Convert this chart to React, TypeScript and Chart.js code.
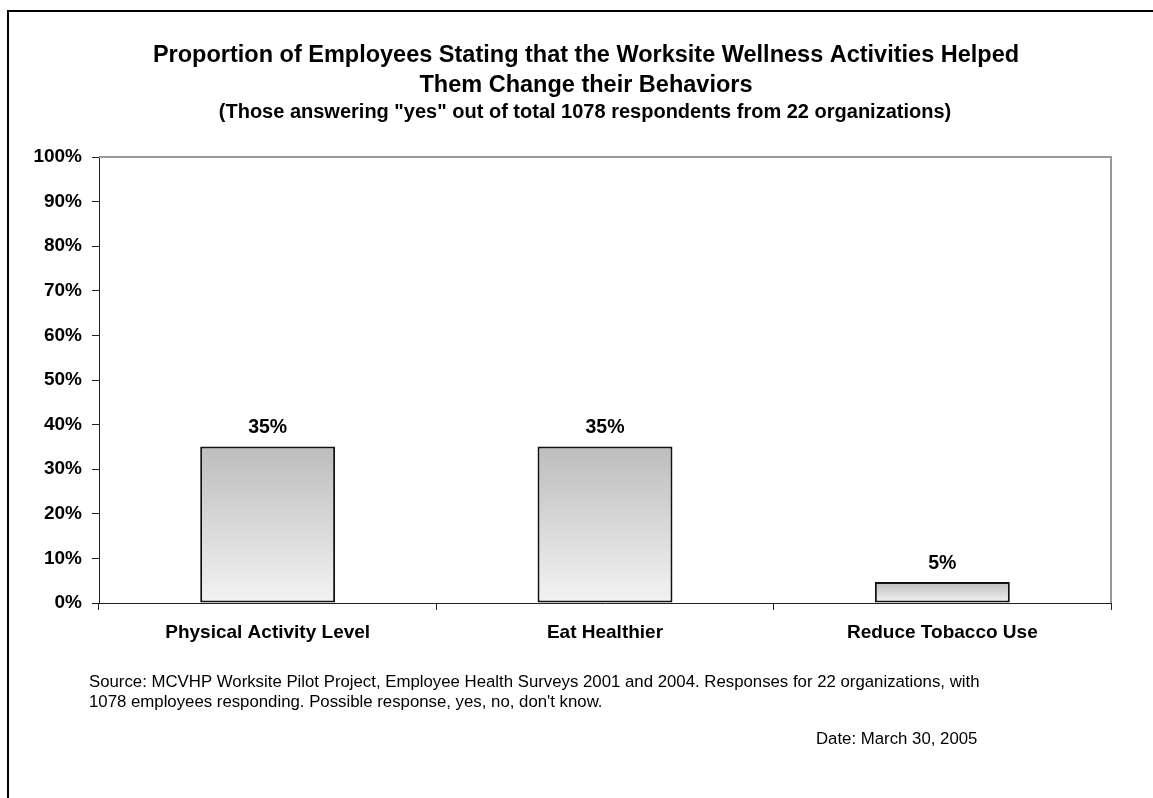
import React, { useEffect, useRef } from "react";
import { Chart, registerables } from "chart.js";

Chart.register(...registerables);

const categories = ["Physical Activity Level", "Eat Healthier", "Reduce Tobacco Use"];
const yesPercent = [35.1, 35.1, 4.7];
const yMin = 0;
const yMax = 100;
const yStep = 10;
const titleLines = [
  "Proportion of Employees Stating that the Worksite Wellness Activities Helped",
  "Them Change their Behaviors",
];
const subtitleText = '(Those answering "yes" out of total 1078 respondents from 22 organizations)';
const sourceLines = [
  "Source: MCVHP Worksite Pilot Project, Employee Health Surveys 2001 and 2004. Responses for 22 organizations, with",
  "1078 employees responding. Possible response, yes, no, don't know.",
];
const dateText = "Date: March 30, 2005";

const FONT = '"Liberation Sans", Arial, Helvetica, sans-serif';

const textPlugin = {
  id: "textPlugin",
  afterDraw(chart: any) {
    const ctx = chart.ctx as CanvasRenderingContext2D;
    ctx.save();
    ctx.fillStyle = "#000";
    ctx.textBaseline = "alphabetic";
    ctx.textAlign = "center";
    ctx.font = `bold 23.5px ${FONT}`;
    ctx.fillText(titleLines[0], 586, 61.7);
    ctx.fillText(titleLines[1], 586, 92.3);
    ctx.font = `bold 20px ${FONT}`;
    ctx.fillText(subtitleText, 585, 117.7);
    ctx.textAlign = "left";
    ctx.font = `16.8px ${FONT}`;
    ctx.fillText(sourceLines[0], 89, 686.7);
    ctx.fillText(sourceLines[1], 89, 706.7);
    ctx.fillText(dateText, 816, 744);
    ctx.restore();
  },
};

const framePlugin = {
  id: "framePlugin",
  beforeDatasetsDraw(chart: any) {
    const { ctx, chartArea } = chart;
    ctx.save();
    ctx.strokeStyle = "#999999";
    ctx.lineWidth = 2;
    ctx.beginPath();
    ctx.moveTo(chartArea.left, chartArea.top);
    ctx.lineTo(chartArea.right, chartArea.top);
    ctx.lineTo(chartArea.right, chartArea.bottom);
    ctx.stroke();
    ctx.restore();
  },
};

const valueLabelPlugin = {
  id: "valueLabelPlugin",
  afterDatasetsDraw(chart: any) {
    const ctx = chart.ctx as CanvasRenderingContext2D;
    const meta = chart.getDatasetMeta(0);
    ctx.save();
    ctx.fillStyle = "#000";
    ctx.font = `bold 19.5px ${FONT}`;
    ctx.textAlign = "center";
    ctx.textBaseline = "alphabetic";
    meta.data.forEach((bar: any, i: number) => {
      const v = chart.data.datasets[0].data[i] as number;
      ctx.fillText(`${Math.round(v)}%`, bar.x, bar.y - 13);
    });
    ctx.restore();
  },
};

export default function App() {
  const canvasRef = useRef<HTMLCanvasElement | null>(null);

  useEffect(() => {
    if (!canvasRef.current) return;
    const chart = new Chart(canvasRef.current, {
      type: "bar",
      data: {
        labels: categories,
        datasets: [
          {
            data: yesPercent,
            backgroundColor: (c: any) => {
              const ch = c.chart;
              const ys = ch.scales && ch.scales.y;
              if (!ys || c.type !== "data") return "#d8d8d8";
              const top = ys.getPixelForValue(c.raw as number);
              const bottom = ys.getPixelForValue(0);
              if (!isFinite(top) || !isFinite(bottom) || top === bottom) return "#d8d8d8";
              const g = ch.ctx.createLinearGradient(0, top, 0, bottom);
              g.addColorStop(0, "#bdbdbd");
              g.addColorStop(1, "#f3f3f3");
              return g;
            },
            borderColor: "#111",
            borderWidth: 2,
            borderSkipped: false,
            categoryPercentage: 1,
            barPercentage: 0.4,
          },
        ],
      },
      options: {
        responsive: false,
        animation: false,
        layout: { padding: { top: 157, right: 42, left: 0, bottom: 145 } },
        plugins: {
          legend: { display: false },
          tooltip: { enabled: false },
          title: { display: false },
        },
        scales: {
          x: {
            afterFit: (s: any) => {
              s.height = 50;
            },
            grid: {
              display: true,
              drawOnChartArea: false,
              drawTicks: true,
              tickLength: 7,
              color: "#222",
              offset: true,
            },
            border: { display: true, color: "#222", width: 1 },
            ticks: {
              color: "#000",
              padding: 11,
              font: { family: FONT, size: 19, weight: "bold" },
              maxRotation: 0,
              autoSkip: false,
            },
          },
          y: {
            min: yMin,
            max: yMax,
            afterFit: (s: any) => {
              s.width = 99;
            },
            grid: {
              display: true,
              drawOnChartArea: false,
              drawTicks: true,
              tickLength: 7,
              color: "#222",
            },
            border: { display: true, color: "#222", width: 1 },
            ticks: {
              stepSize: yStep,
              color: "#000",
              padding: 10,
              font: { family: FONT, size: 19, weight: "bold" },
              callback: (v: any) => `${v}%`,
            },
          },
        },
      },
      plugins: [framePlugin, valueLabelPlugin, textPlugin],
    });
    return () => chart.destroy();
  }, []);

  return (
    <>
      <div
        style={{
          position: "fixed",
          left: 7,
          top: 10,
          width: 1146,
          height: 788,
          borderLeft: "2px solid #000",
          borderTop: "2px solid #000",
          boxSizing: "border-box",
          background: "#fff",
        }}
      />
      <canvas
        ref={canvasRef}
        width={1153}
        height={798}
        style={{ position: "fixed", left: 0, top: 0, width: 1153, height: 798 }}
      />
    </>
  );
}
